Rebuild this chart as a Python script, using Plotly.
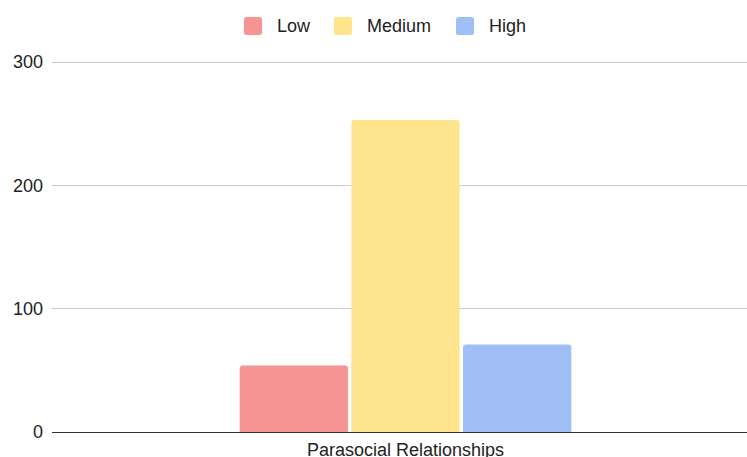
import plotly.graph_objects as go

# Survey responses by level of parasocial relationship
categories = ["Parasocial Relationships"]
series_names = ["Low", "Medium", "High"]
series_values = [[54], [253], [71]]
series_colors = ["#F69494", "#FEE58D", "#A0BFF6"]
y_ticks = [0, 100, 200, 300]

W, H = 747, 457
M_L, M_R, M_T, M_B = 52, 0, 58, 25
PLOT_W = W - M_L - M_R
PLOT_H = H - M_T - M_B
Y_MAX = 303.24  # a little headroom so the 300 gridline is drawn


def px_x(px):
    """Horizontal pixel -> plot-area paper fraction."""
    return (px - M_L) / PLOT_W


def px_y(py):
    """Vertical pixel -> plot-area paper fraction."""
    return (H - M_B - py) / PLOT_H


fig = go.Figure()
for name, vals, color in zip(series_names, series_values, series_colors):
    fig.add_trace(go.Bar(
        name=name,
        x=categories,
        y=vals,
        marker=dict(color=color, line=dict(width=0), cornerradius=3),
        hoverinfo="y+name",
        showlegend=False,
    ))

font_family = "Liberation Sans, Arial, sans-serif"
text_color = "#222222"

# Legend across the top: rounded swatch followed by the series name
legend_swatch_left = [244, 334, 456]
legend_text_left = [275, 365, 487]
swatch_size = 18
legend_center_y = 26
shapes = []
annotations = []
for name, color, sx, tx in zip(series_names, series_colors,
                               legend_swatch_left, legend_text_left):
    x0, x1 = px_x(sx), px_x(sx + swatch_size)
    y0, y1 = px_y(legend_center_y + swatch_size / 2), px_y(legend_center_y - swatch_size / 2)
    r = 2.5 / PLOT_W
    ry = 2.5 / PLOT_H
    path = (
        f"M {x0 + r},{y0} L {x1 - r},{y0} Q {x1},{y0} {x1},{y0 + ry} "
        f"L {x1},{y1 - ry} Q {x1},{y1} {x1 - r},{y1} "
        f"L {x0 + r},{y1} Q {x0},{y1} {x0},{y1 - ry} "
        f"L {x0},{y0 + ry} Q {x0},{y0} {x0 + r},{y0} Z"
    )
    shapes.append(dict(type="path", xref="paper", yref="paper", path=path,
                       fillcolor=color, line=dict(width=0), layer="above"))
    annotations.append(dict(
        xref="paper", yref="paper", x=px_x(tx), y=px_y(legend_center_y),
        xanchor="left", yanchor="middle", text=name, showarrow=False,
        font=dict(family=font_family, size=18, color=text_color),
    ))

fig.update_layout(
    width=W,
    height=H,
    barmode="group",
    bargap=0.518,
    bargroupgap=0.03,
    plot_bgcolor="white",
    paper_bgcolor="white",
    margin=dict(l=M_L, r=M_R, t=M_T, b=M_B, autoexpand=False),
    font=dict(family=font_family, size=18, color=text_color),
    showlegend=False,
    shapes=shapes,
    annotations=annotations,
    xaxis=dict(
        type="category",
        range=[-0.5086, 0.4914],
        automargin=False,
        showgrid=False,
        showline=False,
        ticks="",
        ticklabelstandoff=5,
        tickfont=dict(size=18, color=text_color),
    ),
    yaxis=dict(
        range=[0, Y_MAX],
        tickvals=y_ticks,
        automargin=False,
        showgrid=True,
        gridcolor="#CCCCCC",
        gridwidth=1,
        zeroline=True,
        zerolinecolor="#333333",
        zerolinewidth=1,
        showline=False,
        ticks="",
        ticklabelstandoff=8,
        tickfont=dict(size=18, color=text_color),
    ),
)

fig.write_html("out.html")
